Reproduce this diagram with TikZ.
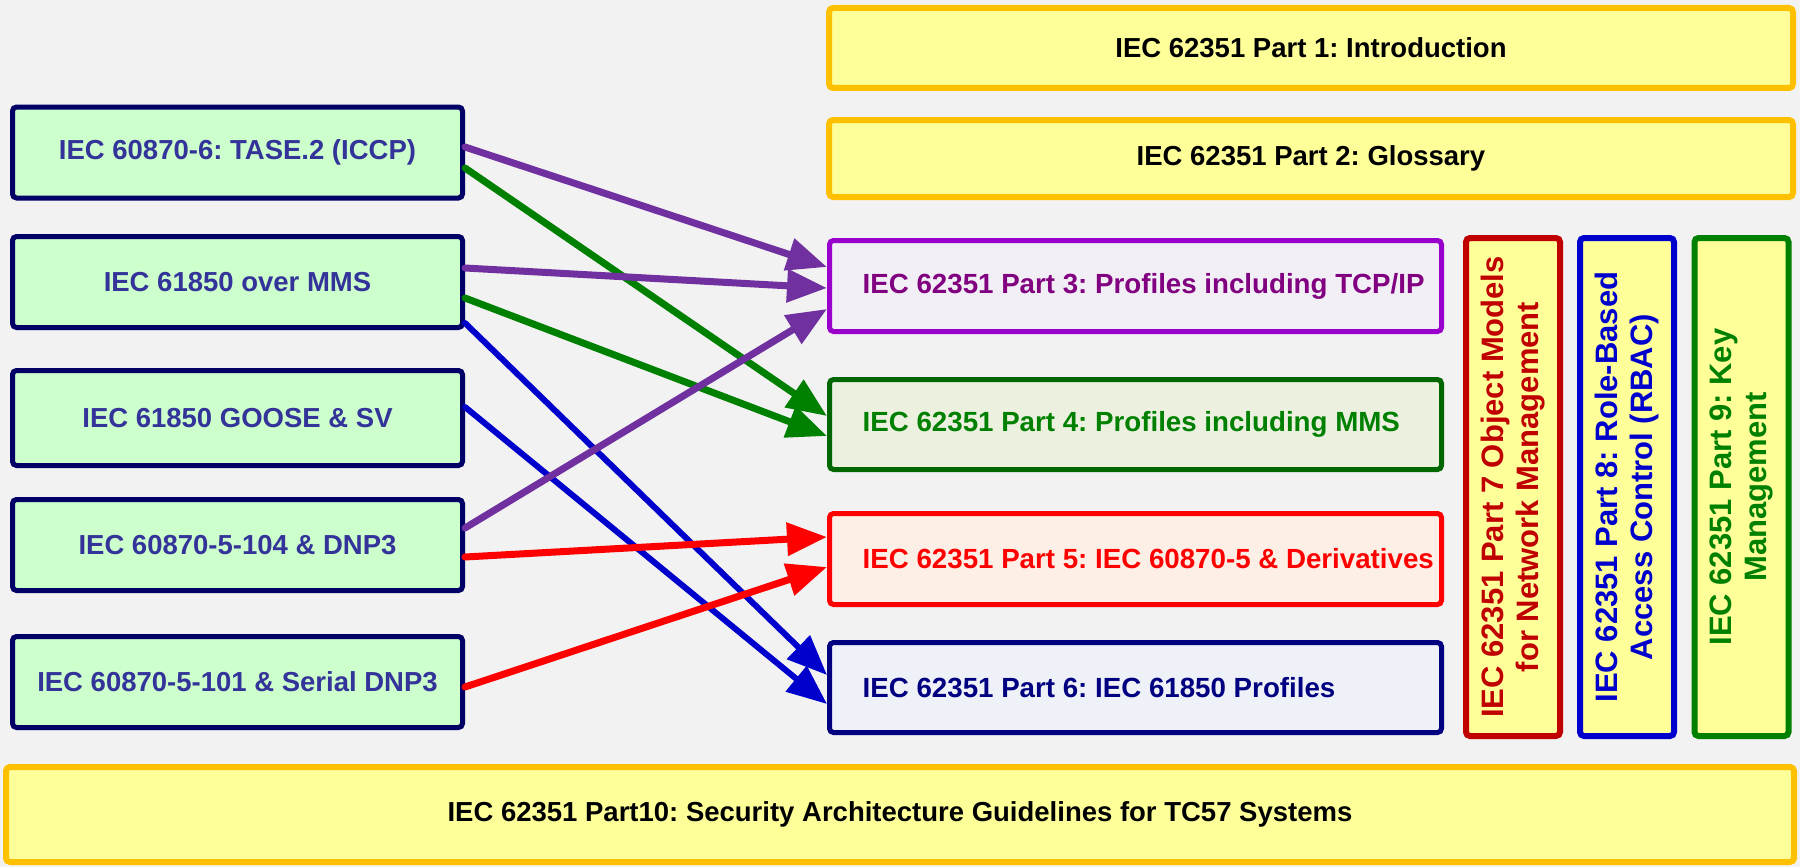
\documentclass[tikz,border=0pt]{standalone}
\usepackage{fontspec}
\setmainfont{Liberation Sans}
\usetikzlibrary{arrows.meta}
\frenchspacing
\definecolor{bgc}{HTML}{F2F2F2}
\definecolor{lfill}{HTML}{CCFFCC}
\definecolor{ldraw}{HTML}{000066}
\definecolor{ltext}{HTML}{333399}
\definecolor{yfill}{HTML}{FFFF99}
\definecolor{ydraw}{HTML}{FFC000}
\definecolor{pIIId}{HTML}{9900CC}
\definecolor{pIIIf}{HTML}{F1EFF5}
\definecolor{pIIIt}{HTML}{800080}
\definecolor{pIVd}{HTML}{006600}
\definecolor{pIVf}{HTML}{EBF1DE}
\definecolor{pIVt}{HTML}{008000}
\definecolor{pVd}{HTML}{FF0000}
\definecolor{pVf}{HTML}{FDEFE6}
\definecolor{pVt}{HTML}{FF0000}
\definecolor{pVId}{HTML}{000080}
\definecolor{pVIf}{HTML}{EEF1F7}
\definecolor{pVIt}{HTML}{000080}
\definecolor{cVII}{HTML}{C00000}
\definecolor{cVIII}{HTML}{0000CC}
\definecolor{cIX}{HTML}{008000}
\definecolor{apur}{HTML}{7030A0}
\definecolor{agrn}{HTML}{008000}
\definecolor{ablu}{HTML}{0000CC}
\definecolor{ared}{HTML}{FF0000}
\begin{document}
\begin{tikzpicture}[x=1pt,y=-1pt,
  lbox/.style={draw=ldraw, fill=lfill, line width=5pt, rounded corners=4pt,
    text=ltext, minimum width=450pt, minimum height=91pt, inner sep=0pt,
    font=\bfseries\fontsize{27.5}{33}\selectfont},
  ybox/.style={draw=ydraw, fill=yfill, line width=6pt, rounded corners=4pt,
    text=black, inner sep=0pt, font=\bfseries\fontsize{27.5}{33}\selectfont},
  pbox/.style={line width=5pt, rounded corners=4pt, minimum width=612pt,
    minimum height=90pt, inner sep=0pt},
  ptext/.style={inner sep=0pt, anchor=west, font=\bfseries\fontsize{27.7}{33}\selectfont},
  vbox/.style={fill=yfill, line width=6pt, rounded corners=4pt, rotate=90,
    minimum width=498pt, minimum height=94pt, inner sep=0pt, align=center,
    font=\bfseries\fontsize{31}{35}\selectfont},
  conn/.style={line width=7pt, line cap=round, -{Triangle[length=40pt,width=32pt]}}
]
\useasboundingbox[fill=bgc] (0,0) rectangle (1800,867);

% left boxes
\node[lbox] (b1) at (237.5,152.5) {IEC 60870-6: TASE.2 (ICCP)};
\node[lbox] (b2) at (237.5,282) {IEC 61850 over MMS};
\node[lbox, minimum height=95pt] (b3) at (237.5,418) {IEC 61850 GOOSE \& SV};
\node[lbox] (b4) at (237.5,545) {IEC 60870-5-104 \& DNP3};
\node[lbox] (b5) at (237.5,682) {IEC 60870-5-101 \& Serial DNP3};

% top and bottom
\node[ybox, minimum width=964pt, minimum height=80pt] (p1) at (1311,48) {IEC 62351 Part 1: Introduction};
\node[ybox, minimum width=964pt, minimum height=77pt] (p2) at (1311,158.5) {IEC 62351 Part 2: Glossary};
\node[ybox, minimum width=1788pt, minimum height=95pt] (p10) at (900,814.5) {IEC 62351 Part10: Security Architecture Guidelines for TC57 Systems};

% profile boxes
\node[pbox, draw=pIIId, fill=pIIIf, minimum height=91pt] (p3) at (1135.5,286) {};
\node[ptext, text=pIIIt] (p3l) at ([xshift=35.5pt]p3.west) {IEC 62351 Part 3: Profiles including TCP/IP};
\node[pbox, draw=pIVd, fill=pIVf] (p4) at (1135.5,424.5) {};
\node[ptext, text=pIVt] (p4l) at ([xshift=35.5pt]p4.west) {IEC 62351 Part 4: Profiles including MMS};
\node[pbox, draw=pVd, fill=pVf, minimum height=91pt] (p5) at (1135.5,559) {};
\node[ptext, text=pVt] (p5l) at ([xshift=35.5pt]p5.west) {IEC 62351 Part 5: IEC 60870-5 \& Derivatives};
\node[pbox, draw=pVId, fill=pVIf] (p6) at (1135.5,687.5) {};
\node[ptext, text=pVIt] (p6l) at ([xshift=35.5pt]p6.west) {IEC 62351 Part 6: IEC 61850 Profiles};

% vertical boxes
\node[vbox, draw=cVII, text=cVII] (p7) at (1513,487) {IEC 62351 Part 7 Object Models\\for Network Management};
\node[vbox, draw=cVIII, text=cVIII] (p8) at (1627,487) {IEC 62351 Part 8: Role-Based\\Access Control (RBAC)};
\node[vbox, draw=cIX, text=cIX] (p9) at (1741.5,487) {IEC 62351 Part 9: Key\\Management};

% connectors
\draw[conn, draw=agrn] ([yshift=-15.5pt]b1.east) -- ([yshift=8.5pt]p4.west);
\draw[conn, draw=agrn] ([yshift=-16pt]b2.east) -- ([yshift=-11.5pt]p4.west);
\draw[conn, draw=ablu, line width=6pt] ([yshift=-41pt]b2.east) -- ([yshift=12.5pt]p6.west);
\draw[conn, draw=ablu, line width=6pt] ([yshift=11pt]b3.east) -- ([yshift=-16.5pt]p6.west);
\draw[conn, draw=ared] ([yshift=-12pt]b4.east) -- ([yshift=22pt]p5.west);
\draw[conn, draw=ared] ([yshift=-5pt]b5.east) -- ([yshift=-8pt]p5.west);
\draw[conn, draw=apur] ([yshift=5.5pt]b1.east) -- ([yshift=19pt]p3.west);
\draw[conn, draw=apur] ([yshift=14pt]b2.east) -- ([yshift=-2pt]p3.west);
\draw[conn, draw=apur] ([yshift=17pt]b4.east) -- ([yshift=-23pt]p3.west);
\end{tikzpicture}
\end{document}
